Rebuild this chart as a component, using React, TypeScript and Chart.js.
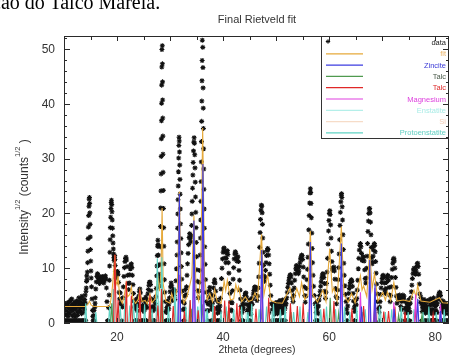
import React, { useEffect, useRef } from "react";
import { Chart, registerables } from "chart.js";

Chart.register(...registerables);

const CANVAS_W = 449;
const CANVAS_H = 356;
const FONT = '"Liberation Sans", Arial, Helvetica, sans-serif';

// ---------------- data (2theta in degrees, sqrt(counts)) ----------------
const observed: [number, number][] = [
  [10.0,0.4],[10.1,2.6],[10.2,0.4],[10.3,1.5],[10.4,3.1],[10.5,0.4],[10.6,2.2],[10.7,3.7],[10.8,0.4],[10.9,1.8],
  [11.0,2.9],[11.1,0.4],[11.2,4.1],[11.3,2.4],[11.4,0.4],[11.5,3.4],[11.6,1.3],[11.7,0.4],[11.8,2.7],[11.9,3.8],
  [12.0,0.4],[12.1,1.1],[12.2,2.5],[12.3,0.4],[12.4,3.9],[12.5,2.0],[12.6,0.4],[12.7,3.0],[12.8,4.6],[12.9,0.4],
  [13.0,2.3],[13.1,3.6],[13.2,0.4],[13.3,1.7],[13.4,4.9],[13.5,0.4],[13.6,2.9],[13.7,3.5],[13.8,0.4],[13.9,4.3],
  [14.0,5.1],[14.1,0.4],[14.2,6.4],
  [14.25,7.6],[14.3,8.6],[14.35,7.9],[14.4,9.3],[14.45,11.0],[14.5,13.1],[14.55,15.4],[14.6,17.5],[14.65,19.6],
  [14.7,21.3],[14.75,22.6],[14.8,22.9],[14.84,21.8],[14.88,20.1],[14.92,18.0],[14.96,15.7],[15.0,13.4],[15.04,11.3],
  [15.08,9.5],[15.13,8.2],[15.2,6.6],[15.3,4.4],[15.4,2.3],[15.5,0.4],[15.6,1.4],[15.7,0.4],[15.8,2.9],
  [15.9,4.6],[16.0,6.2],[16.1,7.5],[16.2,8.5],[16.3,9.0],[16.4,8.8],[16.5,8.1],[16.6,7.5],[16.7,7.2],[16.8,7.8],
  [16.9,8.4],[17.0,8.0],[17.1,7.6],[17.2,8.2],[17.3,8.5],[17.4,7.9],[17.5,7.3],[17.6,7.7],[17.7,8.3],[17.8,8.6],
  [17.9,8.0],[18.0,6.4],[18.1,3.9],[18.2,0.4],[18.3,0.4],[18.4,2.8],
  [18.5,5.1],[18.55,7.8],[18.6,10.4],[18.65,12.9],[18.7,15.2],[18.75,17.4],[18.8,19.3],[18.85,20.9],[18.9,22.0],
  [18.95,22.4],[19.0,21.6],[19.05,20.3],[19.1,18.8],[19.15,17.3],[19.2,15.9],[19.25,14.6],[19.3,13.5],[19.35,12.6],
  [19.4,11.9],[19.45,11.4],[19.5,11.9],[19.55,12.3],[19.6,11.6],[19.65,10.5],[19.7,9.4],[19.8,8.2],
  [19.9,8.8],[20.0,9.2],[20.1,9.4],[20.2,8.9],[20.3,7.4],[20.4,5.6],[20.5,4.4],[20.6,5.5],[20.7,3.6],
  [20.8,3.4],[20.9,0.4],[21.0,2.9],[21.1,4.6],[21.2,6.6],[21.3,8.5],[21.4,10.1],[21.5,11.2],[21.6,11.8],[21.7,12.0],
  [21.8,11.5],[21.9,10.3],[22.0,8.7],[22.1,7.2],[22.2,6.1],[22.3,7.3],[22.4,8.8],[22.5,9.9],[22.6,10.6],[22.7,10.8],
  [22.8,10.1],[22.9,8.7],[23.0,7.0],[23.1,5.4],[23.2,4.0],[23.3,2.9],[23.4,0.4],[23.5,2.6],[23.6,3.7],[23.7,4.4],
  [23.8,3.1],[23.9,0.4],
  [24.0,3.4],[24.1,4.9],[24.2,5.8],[24.3,6.2],[24.4,5.5],[24.5,4.1],[24.6,2.7],[24.7,0.4],[24.8,3.2],[24.9,4.3],
  [25.0,3.0],[25.1,0.4],[25.2,2.5],[25.3,3.9],[25.4,4.7],[25.5,3.3],[25.6,0.4],[25.7,4.2],[25.8,5.3],[25.9,6.1],
  [26.0,6.9],[26.1,7.4],[26.2,7.5],[26.3,7.0],[26.4,5.9],[26.5,4.4],[26.6,2.9],[26.7,0.4],[26.8,3.0],[26.9,4.1],
  [27.0,2.6],[27.1,0.4],[27.2,3.5],[27.3,4.8],[27.4,6.3],[27.5,8.6],[27.55,10.4],[27.6,12.3],[27.65,14.0],[27.7,15.1],
  [27.75,14.3],[27.8,12.4],[27.85,10.5],[27.9,8.9],[27.95,7.6],[28.0,6.8],[28.05,8.2],[28.1,10.7],[28.15,13.9],
  [28.2,17.6],[28.25,21.0],
  [28.28,24.1],[28.31,27.2],[28.34,30.4],[28.36,33.6],[28.38,36.9],[28.4,40.1],[28.42,43.4],[28.44,46.7],[28.46,49.9],
  [28.48,53.1],[28.5,55.4],[28.52,53.8],[28.54,50.6],[28.56,47.3],[28.58,44.0],[28.6,40.7],[28.62,37.4],[28.64,34.1],
  [28.66,30.8],[28.69,27.5],[28.72,24.2],[28.75,20.9],[28.79,17.4],[28.83,14.0],[28.88,10.8],[28.94,7.9],[29.0,5.6],
  [29.1,3.9],[29.2,2.1],[29.3,0.4],[29.4,2.8],[29.5,4.0],[29.6,3.1],[29.7,0.4],[29.8,3.5],[29.9,4.6],[30.0,5.7],
  [30.1,6.6],[30.2,7.3],[30.3,6.8],[30.4,5.5],[30.5,4.1],[30.6,5.2],[30.7,6.1],[30.8,5.0],[30.9,4.3],[31.0,5.8],
  [31.1,7.7],[31.2,9.9],[31.3,12.4],[31.35,14.8],[31.4,17.3],[31.45,19.9],[31.5,22.5],[31.54,25.0],[31.58,27.6],
  [31.62,30.1],[31.66,32.4],[31.7,33.9],[31.74,33.2],[31.78,31.2],[31.82,28.8],[31.86,26.2],[31.9,23.5],[31.94,20.8],
  [31.98,18.1],[32.03,15.4],[32.08,12.8],[32.14,10.3],[32.2,8.0],[32.3,5.8],[32.4,3.9],[32.5,2.4],[32.6,0.4],
  [32.7,3.6],[32.8,4.9],[32.9,6.1],[33.0,5.2],[33.1,6.6],[33.2,8.7],[33.3,10.8],[33.4,12.7],
  [33.5,14.3],[33.6,15.6],[33.7,16.3],[33.8,15.4],[33.9,14.8],[34.0,15.9],[34.06,17.8],[34.12,19.9],[34.18,22.2],
  [34.24,24.6],[34.3,27.0],[34.36,29.3],[34.42,31.4],[34.48,33.0],[34.54,33.8],[34.6,32.8],[34.65,30.7],[34.7,28.3],
  [34.75,25.7],[34.8,23.0],[34.85,20.2],[34.9,17.4],[34.95,14.7],[35.0,12.1],[35.06,9.7],[35.13,7.6],[35.22,5.9],
  [35.32,4.6],[35.42,5.8],[35.52,7.4],[35.6,9.6],[35.67,12.4],[35.73,15.5],[35.78,18.8],[35.82,22.2],[35.86,25.8],
  [35.9,29.4],[35.93,33.1],[35.96,36.8],[35.99,40.5],[36.02,44.2],[36.05,47.9],[36.08,51.6],[36.11,55.3],[36.14,54.0],
  [36.17,50.3],[36.2,46.6],[36.23,42.9],[36.26,39.2],[36.29,35.5],[36.32,31.8],[36.35,28.1],[36.39,24.4],[36.43,20.8],
  [36.48,17.3],[36.54,13.9],[36.61,10.7],[36.7,7.9],[36.8,5.6],[36.9,3.9],[37.0,2.3],[37.1,0.4],
  [37.2,3.4],[37.3,4.7],[37.4,5.9],[37.5,6.5],[37.6,5.3],[37.7,3.9],[37.8,2.5],[37.9,0.4],[38.0,3.6],[38.1,5.0],
  [38.2,6.4],[38.3,7.4],[38.4,7.9],[38.5,7.3],[38.6,5.8],[38.7,4.2],[38.8,2.6],[38.9,0.4],[39.0,2.9],[39.1,3.8],
  [39.2,2.4],[39.3,0.4],[39.4,3.1],[39.5,4.5],[39.6,6.2],[39.7,8.1],[39.8,10.0],[39.9,11.7],[40.0,12.9],[40.1,13.5],
  [40.2,13.7],[40.3,13.1],[40.4,11.9],[40.5,11.0],[40.6,11.8],[40.7,12.8],[40.8,13.2],[40.9,12.5],[41.0,11.0],
  [41.1,9.1],[41.2,7.2],[41.3,5.4],[41.4,3.8],[41.5,2.4],[41.6,0.4],[41.7,3.7],[41.8,5.9],[41.9,8.0],[42.0,10.1],
  [42.1,11.7],[42.2,12.6],[42.3,13.0],[42.4,12.7],[42.5,11.9],[42.6,11.3],[42.7,11.9],[42.8,12.1],[42.9,11.2],
  [43.0,9.6],[43.1,7.8],[43.2,6.0],[43.3,4.4],[43.4,3.0],
  [43.5,0.4],[43.6,2.7],[43.7,3.6],[43.8,2.5],[43.9,3.4],[44.0,4.3],[44.1,5.0],[44.2,5.4],[44.3,5.5],[44.4,4.8],
  [44.5,3.4],[44.6,2.1],[44.7,0.4],[44.8,3.1],[44.9,4.2],[45.0,3.3],[45.1,0.4],[45.2,2.6],[45.3,3.8],[45.4,4.5],
  [45.5,3.4],[45.6,4.4],[45.7,5.3],[45.8,5.9],[45.9,6.4],[46.0,6.6],[46.1,6.5],[46.2,6.0],[46.3,5.0],[46.4,4.1],
  [46.5,4.9],[46.6,6.4],[46.7,8.4],[46.8,10.9],[46.9,13.8],[46.98,16.5],[47.06,18.9],[47.14,20.6],[47.22,21.5],
  [47.3,21.3],[47.36,20.1],[47.42,18.0],[47.48,15.5],[47.55,12.9],[47.62,10.5],[47.7,8.6],[47.8,7.6],[47.9,8.3],
  [48.0,9.6],[48.1,11.0],[48.2,12.3],[48.3,13.2],[48.4,13.6],[48.5,13.4],[48.6,12.4],[48.7,10.8],[48.8,8.9],
  [48.9,6.9],[49.0,5.0],[49.1,3.5],[49.2,0.4],[49.3,2.4],[49.4,3.3],[49.5,2.1],[49.6,0.4],[49.7,3.0],[49.8,3.5],
  [49.9,3.7],[50.0,3.1],[50.1,0.4],[50.2,2.7],[50.3,3.8],[50.4,2.9],[50.5,0.4],[50.6,3.2],[50.7,4.1],[50.8,3.0],
  [50.9,0.4],[51.0,2.5],[51.1,3.6],[51.2,4.2],[51.3,2.8],[51.4,0.4],[51.5,3.3],[51.6,4.0],[51.7,3.1],
  [51.8,4.3],[51.9,3.5],[52.0,4.6],[52.1,5.6],[52.2,6.5],[52.3,7.2],[52.4,7.8],[52.5,8.3],[52.6,8.7],[52.7,8.8],
  [52.8,8.4],[52.9,7.3],[53.0,5.9],[53.1,4.6],[53.2,3.9],[53.3,5.0],[53.4,6.4],[53.5,7.8],[53.6,9.0],[53.7,9.9],
  [53.8,10.4],[53.9,10.5],[54.0,10.1],[54.1,9.4],[54.2,9.0],[54.3,9.5],[54.4,10.3],[54.5,11.0],[54.6,11.7],
  [54.7,12.1],[54.8,12.4],[54.9,12.3],[55.0,11.6],[55.1,10.2],[55.2,8.4],[55.3,6.6],[55.4,5.0],[55.5,3.8],
  [55.6,4.9],[55.7,6.3],[55.8,7.9],[55.9,9.8],[56.0,12.0],[56.08,14.4],[56.16,17.0],[56.24,19.6],[56.32,21.9],
  [56.4,23.7],[56.46,24.5],[56.52,23.8],[56.58,21.8],[56.65,19.2],[56.72,16.4],[56.8,13.6],[56.88,11.0],[56.97,8.7],
  [57.07,6.7],[57.2,5.0],[57.35,3.5],[57.5,0.4],[57.6,2.8],[57.7,3.9],[57.8,2.9],[57.9,0.4],[58.0,3.1],[58.1,4.2],
  [58.2,5.0],[58.3,5.8],[58.4,6.7],[58.5,7.5],[58.6,8.2],[58.7,8.7],[58.8,9.0],[58.9,8.9],[59.0,8.3],[59.1,7.2],
  [59.2,5.8],[59.3,4.5],[59.4,5.6],[59.5,7.2],[59.6,9.3],[59.7,11.8],[59.8,14.4],[59.88,16.8],[59.96,18.7],
  [60.04,20.0],[60.12,20.5],[60.2,19.8],[60.28,17.9],[60.36,15.5],[60.44,13.1],[60.52,11.2],[60.6,10.0],[60.7,9.6],
  [60.8,10.0],[60.9,10.2],[61.0,9.5],[61.1,8.0],[61.2,6.3],[61.3,4.8],[61.4,3.5],[61.5,4.6],[61.6,6.0],[61.7,7.9],
  [61.8,10.1],[61.88,12.6],[61.96,15.2],[62.04,17.8],[62.12,20.2],[62.2,22.1],[62.28,23.3],[62.34,23.6],[62.4,22.9],
  [62.46,21.2],[62.53,18.8],[62.6,16.1],[62.68,13.4],[62.76,10.9],[62.85,8.7],[62.95,6.8],[63.07,5.2],[63.2,3.9],
  [63.3,2.5],[63.4,0.4],[63.5,3.1],[63.6,4.3],[63.7,5.4],[63.8,6.3],[63.9,6.9],[64.0,7.4],[64.1,7.7],[64.2,7.9],
  [64.3,7.6],[64.4,6.7],[64.5,5.4],[64.6,4.0],[64.7,2.7],[64.8,0.4],[64.9,3.2],[65.0,4.1],[65.1,3.3],[65.2,4.5],
  [65.3,6.0],[65.4,7.8],[65.5,9.9],[65.6,11.8],[65.7,13.3],[65.8,14.2],[65.9,14.5],[66.0,13.9],[66.1,12.7],
  [66.2,11.5],[66.3,11.4],[66.4,11.9],[66.5,12.1],[66.6,11.3],[66.7,9.7],[66.8,8.1],[66.9,7.3],[67.0,8.2],
  [67.08,10.0],[67.16,12.2],[67.24,14.5],[67.32,16.7],[67.4,18.6],[67.48,20.0],[67.56,20.8],[67.64,20.9],[67.72,20.1],
  [67.8,18.4],[67.88,16.1],[67.96,13.8],[68.04,11.9],[68.12,10.8],[68.2,11.1],[68.28,12.2],[68.36,13.3],[68.44,14.1],
  [68.52,14.5],[68.6,14.2],[68.68,13.0],[68.76,11.2],[68.85,9.1],[68.95,7.1],[69.05,5.3],[69.15,3.9],[69.3,2.6],
  [69.4,0.4],[69.5,2.9],[69.6,3.9],[69.7,5.2],[69.8,6.4],[69.9,7.4],[70.0,8.1],[70.1,8.6],[70.2,8.7],[70.3,8.3],
  [70.4,7.3],[70.5,6.0],[70.6,5.4],[70.7,6.3],[70.8,7.4],[70.9,8.2],[71.0,8.7],[71.1,8.6],[71.2,7.8],[71.3,6.5],
  [71.4,5.1],[71.5,3.9],[71.6,5.0],[71.7,6.6],[71.8,8.3],[71.9,9.8],[72.0,10.9],[72.1,11.6],[72.2,11.8],[72.3,11.3],
  [72.4,10.0],[72.5,8.3],[72.6,6.5],[72.7,4.9],[72.8,3.6],[72.9,4.6],[73.0,5.0],[73.1,4.1],[73.2,4.8],[73.3,5.1],
  [73.4,4.4],[73.5,3.0],[73.6,0.4],[73.7,3.9],[73.8,4.7],[73.9,5.1],[74.0,4.5],[74.1,4.9],[74.2,4.0],[74.3,2.7],
  [74.4,0.4],[74.5,2.6],[74.6,3.7],[74.7,3.0],[74.8,0.4],[74.9,3.1],[75.0,4.2],[75.1,3.4],[75.2,0.4],[75.3,3.6],
  [75.4,4.6],[75.5,5.7],[75.6,6.9],[75.7,8.1],[75.8,9.0],[75.9,9.7],[76.0,10.0],[76.1,9.8],[76.2,9.2],[76.3,8.9],
  [76.4,9.5],[76.5,10.3],[76.6,10.8],[76.7,10.9],[76.8,10.3],[76.9,8.9],[77.0,7.1],[77.1,5.3],[77.2,3.8],[77.3,4.7],
  [77.4,3.5],[77.5,0.4],[77.6,2.9],[77.7,4.0],[77.8,3.1],[77.9,4.3],[78.0,3.4],[78.1,0.4],[78.2,2.5],[78.3,3.8],
  [78.4,2.9],[78.5,4.1],[78.6,3.0],[78.7,0.4],[78.8,2.7],[78.9,3.9],[79.0,3.2],[79.1,4.4],[79.2,3.6],[79.3,0.4],
  [79.4,3.3],[79.5,4.2],[79.6,3.4],[79.7,4.6],[79.8,3.8],[79.9,0.4],[80.0,3.0],[80.1,4.0],[80.2,3.2],[80.3,0.4],
  [80.4,3.5],[80.5,4.3],[80.6,4.9],[80.7,5.3],[80.8,5.6],[80.9,5.5],[81.0,5.0],[81.1,4.1],[81.2,2.8],[81.3,0.4],
  [81.4,3.4],[81.5,4.0],[81.6,3.1],[81.7,0.4],[81.8,2.9],[81.9,3.6],[82.0,2.7],[82.1,0.4],[82.2,3.3],[82.3,2.4],
  [82.4,0.4],[82.5,3.0],[82.6,2.5],
];

// observations read between the coarser ones in the low-intensity background
const observedBackground: [number, number][] = [
  [10.05,1.9],[10.15,0.4],[10.25,3.4],[10.35,0.4],[10.45,2.0],[10.55,3.2],[10.65,0.4],[10.75,1.2],[10.85,2.8],[10.95,0.4],
  [11.05,3.9],[11.15,1.7],[11.25,0.4],[11.35,2.6],[11.45,4.4],[11.55,0.4],[11.65,2.2],[11.75,3.1],[11.85,0.4],[11.95,1.6],
  [12.05,3.3],[12.15,0.4],[12.25,2.9],[12.35,4.0],[12.45,0.4],[12.55,1.4],[12.65,3.6],[12.75,0.4],[12.85,2.1],[12.95,3.9],
  [13.05,0.4],[13.15,2.8],[13.25,4.4],[13.35,0.4],[13.45,3.2],[13.55,1.9],[13.65,0.4],[13.75,4.0],[13.85,2.5],[13.95,0.4],
  [14.05,3.6],[14.15,5.8],[15.45,1.2],[15.55,0.4],[15.65,2.3],[15.75,0.4],[15.85,3.6],
  [23.45,0.4],[23.55,3.1],[23.65,0.4],[23.85,2.2],[23.95,0.4],[24.65,0.4],[24.75,2.4],[24.85,0.4],[25.05,2.1],[25.15,0.4],
  [25.25,3.0],[25.55,0.4],[25.65,2.8],[26.65,0.4],[26.75,2.2],[26.85,0.4],[27.05,0.4],[27.15,2.5],[29.25,0.4],[29.35,1.9],
  [29.45,0.4],[29.55,2.4],[29.65,0.4],[29.75,2.6],[32.55,0.4],[32.65,2.6],[32.75,0.4],[37.05,0.4],[37.15,2.2],[37.75,0.4],
  [37.85,3.0],[37.95,0.4],[38.85,0.4],[38.95,1.8],[39.05,0.4],[39.15,2.6],[39.25,0.4],[39.35,2.0],[41.55,0.4],[41.65,2.2],
  [43.45,0.4],[43.55,1.9],[43.65,0.4],[43.75,2.8],[43.85,0.4],[44.55,0.4],[44.65,2.4],[44.75,0.4],[44.85,1.8],[44.95,0.4],
  [45.05,2.4],[45.15,0.4],[45.25,1.6],[49.15,0.4],[49.25,1.9],[49.35,0.4],[49.45,2.7],[49.55,0.4],[49.65,1.6],[49.75,0.4],
  [49.85,2.4],[49.95,0.4],[50.05,2.2],[50.15,0.4],[50.25,1.7],[50.35,0.4],[50.45,2.4],[50.55,0.4],[50.65,2.0],[50.75,0.4],
  [50.85,2.5],[50.95,0.4],[51.05,1.8],[51.15,0.4],[51.25,2.3],[51.35,0.4],[51.45,1.9],[51.55,0.4],[51.65,2.6],[51.75,0.4],
  [57.45,0.4],[57.55,1.9],[57.65,0.4],[57.75,2.2],[57.85,0.4],[57.95,1.7],[63.35,0.4],[63.45,1.8],[64.75,0.4],[64.85,2.1],
  [69.35,0.4],[69.45,1.9],[73.55,0.4],[73.65,2.4],[74.35,0.4],[74.45,1.8],[74.55,0.4],[74.65,2.5],[74.75,0.4],[74.85,1.9],
  [74.95,0.4],[75.05,2.6],[75.15,0.4],[75.25,2.0],[77.45,0.4],[77.55,2.1],[77.65,0.4],[77.75,2.7],[77.85,0.4],[77.95,2.2],
  [78.05,0.4],[78.15,1.8],[78.25,0.4],[78.35,2.6],[78.45,0.4],[78.55,2.0],[78.65,0.4],[78.75,1.9],[78.85,0.4],[78.95,2.4],
  [79.05,0.4],[79.15,2.2],[79.25,0.4],[79.35,1.7],[79.45,0.4],[79.55,2.5],[79.65,0.4],[79.75,2.0],[79.85,0.4],[79.95,1.8],
  [80.05,0.4],[80.15,2.3],[80.25,0.4],[80.35,1.9],[81.25,0.4],[81.35,2.2],[81.45,0.4],[81.55,1.9],[81.65,0.4],[81.75,2.4],
  [81.85,0.4],[81.95,1.7],[82.05,0.4],[82.15,2.1],[82.25,0.4],[82.35,1.8],[82.45,0.4],[82.55,2.2],
];

const fitCurve: [number, number][] = [
  [10,3.0],[14.0,3.0],[14.5,3.4],[14.8,4.0],[15.1,3.3],[15.6,3.0],[18.4,3.0],[18.7,3.4],[19.0,5.2],[19.3,8.6],
  [19.6,12.4],[19.8,7.5],[20.0,7.0],[20.2,8.6],[20.5,4.6],[21.0,3.6],[21.4,5.2],[21.7,7.2],[22.0,4.8],[22.4,5.2],
  [22.7,6.6],[23.0,4.4],[23.5,3.6],[24.0,4.3],[24.3,6.0],[24.7,3.9],[25.3,4.1],[25.7,3.5],[26.2,5.3],[26.6,3.7],
  [27.2,4.4],[27.7,8.6],[28.0,5.8],[28.3,9.5],[28.5,21.0],[28.7,7.2],[29.2,4.0],[30.0,3.6],[30.3,5.4],[30.8,3.9],
  [31.4,6.5],[31.75,24.0],[32.1,6.0],[32.6,3.6],[33.2,4.8],[33.7,6.8],[34.1,8.5],[34.5,19.6],[34.9,6.2],[35.4,4.1],
  [35.8,9.5],[36.15,35.6],[36.5,8.4],[37.0,4.2],[37.5,5.4],[38.0,3.9],[38.4,6.1],[38.9,3.8],[39.6,3.6],[40.2,7.6],
  [40.5,5.9],[40.8,7.8],[41.4,4.2],[42.0,4.4],[42.4,7.0],[42.7,5.8],[42.9,6.6],[43.5,3.9],[44.2,4.8],[44.8,3.9],
  [45.5,4.2],[46.0,5.5],[46.5,4.3],[47.25,16.2],[47.7,5.1],[48.4,8.8],[49.0,4.1],[50.0,3.7],[51.2,3.6],[52.6,6.4],
  [53.2,3.9],[53.9,6.3],[54.4,4.8],[54.8,7.4],[55.4,4.3],[56.0,5.2],[56.45,16.8],[56.9,5.2],[57.8,3.8],[58.8,6.0],
  [59.4,3.9],[60.1,13.6],[60.6,5.7],[60.9,6.4],[61.5,4.0],[62.3,17.6],[62.8,5.1],[63.6,3.8],[64.2,5.4],[64.9,3.7],
  [65.9,8.6],[66.2,6.0],[66.5,6.8],[67.1,4.8],[67.65,13.5],[68.1,6.2],[68.55,9.0],[69.2,4.0],[70.1,5.6],[70.6,4.2],
  [71.0,5.7],[71.6,4.1],[72.2,7.4],[72.8,4.0],[74.0,4.2],[75.2,3.9],[76.0,6.0],[76.4,4.8],[76.7,6.9],[77.3,4.0],
  [79.0,3.8],[80.8,4.6],[81.4,3.7],[82.6,3.6],
];

const zinciteCurve: [number, number][] = [
  [10,0],[31.5,0],[31.75,23.6],[32.0,0],[34.25,0],[34.5,18.7],[34.75,0],[35.95,0],[36.2,29.0],[36.45,0],
  [47.05,0],[47.3,13.3],[47.55,0],[56.2,0],[56.45,14.8],[56.7,0],[62.05,0],[62.3,14.5],[62.55,0],[65.9,0],
  [66.1,3.0],[66.3,0],[67.45,0],[67.65,11.5],[67.85,0],[68.45,0],[68.65,7.0],[68.85,0],[72.05,0],[72.25,2.6],
  [72.45,0],[76.5,0],[76.7,4.4],[76.9,0],[80.8,0],[81.0,2.2],[81.2,0],[82.6,0],
];

const talcGreenCurve: [number, number][] = [
  [10,0],[18.8,0],[19.0,3.6],[19.2,0],[26.0,0],[26.2,2.1],[26.4,0],[28.3,0],[28.5,5.6],[28.7,0],[33.8,0],
  [34.0,2.6],[34.2,0],[35.9,0],[36.1,3.4],[36.3,0],[38.2,0],[38.4,2.0],[38.6,0],[40.8,0],[41.0,2.2],[41.2,0],
  [47.0,0],[47.2,1.8],[47.4,0],[52.6,0],[52.8,2.0],[53.0,0],[60.0,0],[60.2,4.6],[60.4,0],[61.6,0],[61.8,1.9],
  [62.0,0],[66.0,0],[66.2,2.0],[66.4,0],[68.3,0],[68.5,1.8],[68.7,0],[72.9,0],[73.1,1.5],[73.3,0],[77.3,0],
  [77.5,1.5],[77.7,0],[82.6,0],
];

const talcRedCurve: [number, number][] = [
  [10,0],[19.35,0],[19.6,12.5],[19.85,0],[20.0,0],[20.2,4.2],[20.4,0],[21.55,0],[21.75,7.6],[21.95,0],[22.5,0],
  [22.7,5.0],[22.9,0],[24.1,0],[24.3,6.0],[24.5,0],[26.0,0],[26.2,5.1],[26.4,0],[27.5,0],[27.7,3.2],[27.9,0],
  [28.2,0],[28.4,6.2],[28.6,0],[30.4,0],[30.6,3.1],[30.8,0],[32.5,0],[32.7,2.2],[32.9,0],[33.6,0],[33.8,4.2],
  [34.0,0],[35.1,0],[35.3,2.3],[35.5,0],[38.2,0],[38.4,3.1],[38.6,0],[40.1,0],[40.3,4.1],[40.5,0],[40.9,0],
  [41.1,4.0],[41.3,0],[42.4,0],[42.6,3.6],[42.8,0],[42.9,0],[43.1,3.0],[43.3,0],[46.0,0],[46.2,2.6],[46.4,0],
  [48.4,0],[48.6,4.6],[48.8,0],[52.5,0],[52.7,3.6],[52.9,0],[53.8,0],[54.0,3.1],[54.2,0],[54.9,0],[55.1,3.6],
  [55.3,0],[58.8,0],[59.0,2.6],[59.2,0],[60.7,0],[60.9,4.0],[61.1,0],[64.1,0],[64.3,2.6],[64.5,0],[66.3,0],
  [66.5,3.1],[66.7,0],[68.5,0],[68.7,4.1],[68.9,0],[70.1,0],[70.3,2.1],[70.5,0],[71.0,0],[71.2,2.2],[71.4,0],
  [72.2,0],[72.4,3.0],[72.6,0],[74.1,0],[74.3,2.0],[74.5,0],[76.1,0],[76.3,2.5],[76.5,0],[79.4,0],[79.6,1.6],
  [79.8,0],[82.6,0],
];

const magnesiumCurve: [number, number][] = [
  [10,0],[31.6,0],[31.8,8.8],[32.0,0],[34.3,0],[34.5,10.2],[34.7,0],[35.95,0],[36.15,16.8],[36.35,0],[47.1,0],
  [47.3,11.0],[47.5,0],[56.25,0],[56.45,10.6],[56.65,0],[62.1,0],[62.3,9.4],[62.5,0],[65.7,0],[65.9,5.6],
  [66.1,0],[67.45,0],[67.65,9.2],[67.85,0],[68.4,0],[68.6,6.4],[68.8,0],[72.0,0],[72.2,3.8],[72.4,0],[76.1,0],
  [76.3,5.2],[76.5,0],[80.8,0],[81.0,3.4],[81.2,0],[82.6,0],
];

const enstatiteCurve: [number, number][] = [
  [10,0],[27.9,0],[28.1,4.0],[28.3,0],[30.8,0],[31.0,5.0],[31.2,0],[35.1,0],[35.3,3.0],[35.5,0],[36.6,0],
  [36.8,2.2],[37.0,0],[44.2,0],[44.4,2.0],[44.6,0],[49.0,0],[49.2,2.2],[49.4,0],[58.2,0],[58.4,2.0],[58.6,0],
  [61.0,0],[61.2,2.5],[61.4,0],[69.6,0],[69.8,1.8],[70.0,0],[82.6,0],
];

const siliconCurve: [number, number][] = [
  [10,0],[28.25,0],[28.45,4.2],[28.65,0],[47.1,0],[47.3,3.0],[47.5,0],[55.9,0],[56.1,2.5],[56.3,0],[68.9,0],
  [69.1,1.5],[69.3,0],[76.2,0],[76.4,2.0],[76.6,0],[82.6,0],
];

const protoenstatiteCurve: [number, number][] = [
  [10,0],[13.9,0],[14.1,3.6],[14.3,0],[15.8,0],[16.0,2.0],[16.2,0],[18.4,0],[18.6,3.0],[18.8,0],[19.1,0],
  [19.3,6.2],[19.5,0],[20.4,0],[20.6,3.1],[20.8,0],[21.3,0],[21.5,4.6],[21.7,0],[22.2,0],[22.4,3.2],[22.6,0],
  [22.9,0],[23.1,4.2],[23.3,0],[23.6,0],[23.8,3.5],[24.0,0],[25.0,0],[25.2,3.4],[25.4,0],[26.4,0],[26.6,2.6],
  [26.8,0],[27.35,0],[27.6,11.8],[27.85,0],[28.2,0],[28.45,12.0],[28.7,0],[29.5,0],[29.7,3.0],[29.9,0],[30.7,0],
  [30.9,6.5],[31.1,0],[31.4,0],[31.6,4.0],[31.8,0],[32.8,0],[33.0,3.0],[33.2,0],[33.5,0],[33.7,4.1],[33.9,0],
  [35.0,0],[35.2,3.0],[35.4,0],[35.6,0],[35.8,5.2],[36.0,0],[36.8,0],[37.0,2.5],[37.2,0],[37.9,0],[38.1,3.5],
  [38.3,0],[39.4,0],[39.6,2.1],[39.8,0],[40.4,0],[40.6,3.0],[40.8,0],[41.8,0],[42.0,2.5],[42.2,0],[43.3,0],
  [43.5,3.0],[43.7,0],[44.5,0],[44.7,2.0],[44.9,0],[45.2,0],[45.4,3.5],[45.6,0],[46.6,0],[46.8,2.5],[47.0,0],
  [48.0,0],[48.2,3.0],[48.4,0],[49.3,0],[49.5,3.5],[49.7,0],[50.6,0],[50.8,2.5],[51.0,0],[51.5,0],[51.7,3.0],
  [51.9,0],[53.1,0],[53.3,2.0],[53.5,0],[54.3,0],[54.5,3.0],[54.7,0],[55.8,0],[56.0,2.0],[56.2,0],[57.2,0],
  [57.4,3.5],[57.6,0],[58.2,0],[58.4,2.5],[58.6,0],[59.3,0],[59.5,3.0],[59.7,0],[61.0,0],[61.2,2.5],[61.4,0],
  [62.7,0],[62.9,3.0],[63.1,0],[63.7,0],[63.9,2.0],[64.1,0],[65.0,0],[65.2,3.0],[65.4,0],[66.6,0],[66.8,2.5],
  [67.0,0],[69.3,0],[69.5,3.0],[69.7,0],[70.4,0],[70.6,2.0],[70.8,0],[71.6,0],[71.8,2.5],[72.0,0],[73.4,0],
  [73.6,3.0],[73.8,0],[74.7,0],[74.9,2.0],[75.1,0],[75.8,0],[76.0,2.5],[76.2,0],[77.5,0],[77.7,2.0],[77.9,0],
  [78.6,0],[78.8,3.0],[79.0,0],[80.0,0],[80.2,2.0],[80.4,0],[81.5,0],[81.7,2.5],[81.9,0],[82.6,0],
];

// ---------------- axes / labels ----------------
const xRange = [10, 82.6];
const yRange = [0, 52.37];
const xTicks = [10, 15, 20, 25, 30, 35, 40, 45, 50, 55, 60, 65, 70, 75, 80];
const xTickLabels = [20, 40, 60, 80];
const yMajorTicks = [0, 10, 20, 30, 40, 50];
const yMinorTicks = [2, 4, 6, 8, 12, 14, 16, 18, 22, 24, 26, 28, 32, 34, 36, 38, 42, 44, 46, 48, 52];
const yTickLabels = [0, 10, 20, 30, 40, 50];

const chartTitle = "Final Rietveld fit";
const xTitle = "2theta (degrees)";

const legendNames = ["data", "fit", "Zincite", "Talc", "Talc", "Magnesium", "Enstatite", "Si", "Protoenstatite"];
const lineColors = ["#111111", "#e6a93a", "#3c3ce0", "#4f9a4f", "#e02828", "#e040e0", "#b4efe9", "#f6dcc8", "#5fd3c4"];
const legendTextColors = ["#222222", "#eab56a", "#3a3ad6", "#4a5a4a", "#dd2a2a", "#dd3ddd", "#a8ece6", "#f3cdb6", "#62cfc2"];

const curves: [number, number][][] = [
  fitCurve, zinciteCurve, talcGreenCurve, talcRedCurve, magnesiumCurve, enstatiteCurve, siliconCurve, protoenstatiteCurve,
];
const curveOrder = [8, 1, 4, 3, 2, 7, 6, 5];

const toXY = (pts: [number, number][]) => pts.map(([x, y]) => ({ x, y }));

function drawStar(ctx: CanvasRenderingContext2D, cx: number, cy: number, r: number) {
  ctx.beginPath();
  ctx.moveTo(cx - r, cy); ctx.lineTo(cx + r, cy);
  ctx.moveTo(cx, cy - r); ctx.lineTo(cx, cy + r);
  const d = r * 0.7071;
  ctx.moveTo(cx - d, cy - d); ctx.lineTo(cx + d, cy + d);
  ctx.moveTo(cx - d, cy + d); ctx.lineTo(cx + d, cy - d);
  ctx.stroke();
}

const decorPlugin = {
  id: "decor",
  afterDatasetsDraw(chart: any) {
    const { ctx, chartArea: a } = chart;
    const xs = chart.scales.x;
    const ys = chart.scales.y;
    ctx.save();

    // legend box
    const lx = 321.5, lt = a.top + 0.5, lb = 138.5;
    ctx.fillStyle = "#ffffff";
    ctx.fillRect(lx, lt, a.right - lx, lb - lt);
    ctx.strokeStyle = "#333333";
    ctx.lineWidth = 1;
    ctx.strokeRect(lx, lt, a.right - lx + 2, lb - lt);
    ctx.font = `7.5px ${FONT}`;
    ctx.textAlign = "right";
    ctx.textBaseline = "middle";
    legendNames.forEach((name, i) => {
      const yy = 42.5 + i * 11.3;
      if (i === 0) {
        ctx.strokeStyle = lineColors[0];
        ctx.lineWidth = 1;
        drawStar(ctx, 328, yy - 1, 2.2);
      } else {
        ctx.strokeStyle = lineColors[i];
        ctx.lineWidth = 1.2;
        ctx.beginPath();
        ctx.moveTo(326, yy);
        ctx.lineTo(363, yy);
        ctx.stroke();
      }
      ctx.fillStyle = legendTextColors[i];
      ctx.fillText(name, 446, yy + 0.5);
    });

    // frame
    ctx.strokeStyle = "#2a2a2a";
    ctx.lineWidth = 1;
    ctx.strokeRect(Math.round(a.left) + 0.5, Math.round(a.top) + 0.5, Math.round(a.right - a.left) - 1, Math.round(a.bottom - a.top) - 1);

    // inward ticks
    ctx.beginPath();
    for (const v of yMajorTicks) {
      const p = Math.round(ys.getPixelForValue(v)) + 0.5;
      ctx.moveTo(a.left, p); ctx.lineTo(a.left + 6, p);
      ctx.moveTo(a.right, p); ctx.lineTo(a.right - 6, p);
    }
    for (const v of yMinorTicks) {
      const p = Math.round(ys.getPixelForValue(v)) + 0.5;
      ctx.moveTo(a.left, p); ctx.lineTo(a.left + 3, p);
      ctx.moveTo(a.right, p); ctx.lineTo(a.right - 3, p);
    }
    for (const v of xTicks) {
      const p = Math.round(xs.getPixelForValue(v)) + 0.5;
      const len = v % 10 === 0 ? 5 : 4;
      ctx.moveTo(p, a.top); ctx.lineTo(p, a.top + len);
      ctx.moveTo(p, a.bottom); ctx.lineTo(p, a.bottom - len);
    }
    ctx.stroke();

    // tick labels
    ctx.fillStyle = "#333333";
    ctx.font = `12px ${FONT}`;
    ctx.textAlign = "right";
    ctx.textBaseline = "middle";
    for (const v of yTickLabels) ctx.fillText(String(v), a.left - 9, ys.getPixelForValue(v) + 0.5);
    ctx.textAlign = "center";
    for (const v of xTickLabels) ctx.fillText(String(v), xs.getPixelForValue(v), 337.5);

    // titles
    ctx.font = `11px ${FONT}`;
    ctx.fillStyle = "#333333";
    ctx.fillText(chartTitle, 257, 20);
    ctx.font = `10.5px ${FONT}`;
    ctx.fillText(xTitle, 257, 350.5);

    // y title with superscripts
    const parts: [string, boolean][] = [["Intensity", false], ["1/2", true], [" (counts", false], ["1/2", true], [" )", false]];
    const mainFont = `12px ${FONT}`;
    const supFont = `7.5px ${FONT}`;
    let total = 0;
    for (const [t, sup] of parts) { ctx.font = sup ? supFont : mainFont; total += ctx.measureText(t).width; }
    ctx.translate(25, 197);
    ctx.rotate(-Math.PI / 2);
    ctx.textAlign = "left";
    ctx.textBaseline = "middle";
    let cx = -total / 2;
    for (const [t, sup] of parts) {
      ctx.font = sup ? supFont : mainFont;
      ctx.fillText(t, cx, sup ? -7 : 0);
      cx += ctx.measureText(t).width;
    }
    ctx.restore();
  },
};

export default function App() {
  const canvasRef = useRef<HTMLCanvasElement | null>(null);

  useEffect(() => {
    const canvas = canvasRef.current;
    if (!canvas) return;
    const datasets: any[] = [
      {
        label: legendNames[0],
        data: toXY(observed.concat(observedBackground)),
        showLine: false,
        pointStyle: "star",
        pointRadius: 2.5,
        pointBorderWidth: 1.1,
        borderColor: lineColors[0],
        backgroundColor: lineColors[0],
        order: 10,
      },
    ];
    curves.forEach((c, i) => {
      datasets.push({
        label: legendNames[i + 1],
        data: toXY(c),
        showLine: true,
        pointRadius: 0,
        borderColor: lineColors[i + 1],
        borderWidth: 1.1,
        tension: 0,
        fill: false,
        order: curveOrder[i],
      });
    });

    const chart = new Chart(canvas, {
      type: "scatter",
      data: { datasets },
      options: {
        animation: false,
        responsive: false,
        devicePixelRatio: 1,
        layout: { autoPadding: false, padding: { left: 64, right: CANVAS_W - 451, top: 36, bottom: CANVAS_H - 323 } },
        scales: {
          x: { type: "linear", min: xRange[0], max: xRange[1], display: false },
          y: { type: "linear", min: yRange[0], max: yRange[1], display: false },
        },
        plugins: { legend: { display: false }, tooltip: { enabled: false }, title: { display: false } },
        events: [],
      },
      plugins: [decorPlugin],
    } as any);
    return () => chart.destroy();
  }, []);

  return (
    <div style={{ position: "fixed", left: 0, top: 0, width: 449, height: 356, overflow: "hidden", background: "#ffffff" }}>
      <canvas ref={canvasRef} width={CANVAS_W} height={CANVAS_H} style={{ position: "absolute", left: 0, top: 0, width: CANVAS_W, height: CANVAS_H }} />
      <div
        style={{
          position: "absolute",
          left: -8,
          top: -8,
          fontFamily: '"Liberation Serif", "Times New Roman", serif',
          fontSize: 20,
          lineHeight: "20px",
          color: "#000000",
          whiteSpace: "nowrap",
        }}
      >
        ção do Talco Marela.
      </div>
    </div>
  );
}
